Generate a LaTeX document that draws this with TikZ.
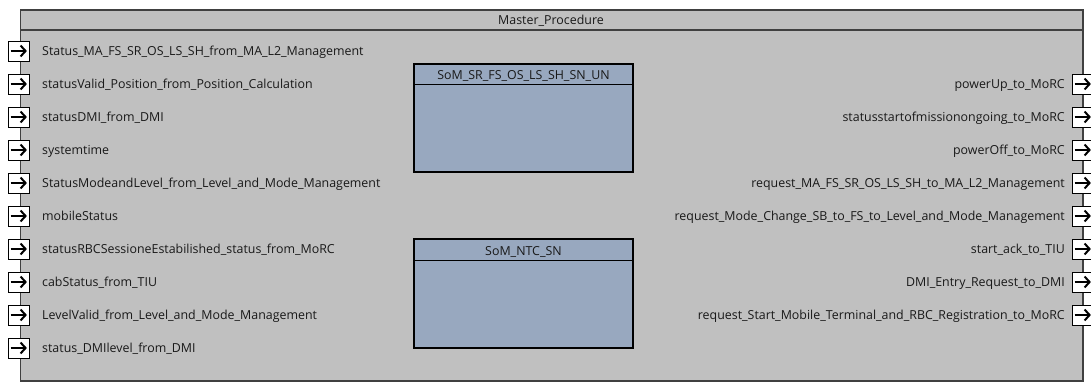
\documentclass[tikz,border=0pt]{standalone}
\usepackage{fontspec}
\setmainfont{Open Sans}
\usetikzlibrary{arrows,arrows.meta}
\definecolor{rahmengrau}{RGB}{192,192,192}
\definecolor{blockblau}{RGB}{152,168,191}
\definecolor{liniengrau}{RGB}{64,64,64}

\begin{document}
\begin{tikzpicture}[x=1pt,y=-1pt,
		port/.style={draw=black,fill=white,minimum width=21pt,minimum height=20pt,inner sep=0pt,line width=0.8pt},
		signal/.style={font=\fontsize{12.4}{14}\selectfont,inner sep=0pt,text=black!90},
		pfeil/.style={-{Straight Barb[length=5pt,width=11pt]},line width=2pt}]
		\useasboundingbox (0,0) rectangle (1091,383);
		%Rahmen zeichnen
		\draw[liniengrau,fill=rahmengrau,line width=1.5pt] (20.5,10) rectangle (1083,381);
		\draw[liniengrau,line width=1.5pt] (20.5,30) -- (1083,30);
		\node[signal,anchor=base] (titel) at (551,24.5) {Master\_Procedure};
		%Bloecke zeichnen
		\draw[fill=blockblau,line width=1.2pt] (414,64) rectangle (633,172);
		\draw[line width=1pt] (414,84) -- (634,84);
		\node[signal,anchor=base] (block1) at (523.5,79.5) {SoM\_SR\_FS\_OS\_LS\_SH\_SN\_UN};
		\draw[fill=blockblau,line width=1.2pt] (414,239) rectangle (633,348);
		\draw[line width=1pt] (414,260) -- (634,260);
		\node[signal,anchor=base] (block2) at (523.5,255.5) {SoM\_NTC\_SN};
		%Eingaenge
		\foreach \txt [count=\i from 0] in {Status\_MA\_FS\_SR\_OS\_LS\_SH\_from\_MA\_L2\_Management,
			statusValid\_Position\_from\_Position\_Calculation, statusDMI\_from\_DMI, systemtime,
			StatusModeandLevel\_from\_Level\_and\_Mode\_Management, mobileStatus,
			statusRBCSessioneEstabilished\_status\_from\_MoRC, cabStatus\_from\_TIU,
			LevelValid\_from\_Level\_and\_Mode\_Management, status\_DMIlevel\_from\_DMI}
		{
			\node[port] (ein\i) at (18.5,51+33*\i) {};
			\draw[pfeil] ([xshift=3pt]ein\i.west) -- ([xshift=-2.5pt]ein\i.east);
			\node[signal,anchor=base west] (einname\i) at (42,55.5+33*\i) {\txt};
		}
		%Ausgaenge
		\foreach \txt [count=\i from 0] in {powerUp\_to\_MoRC, statusstartofmissionongoing\_to\_MoRC,
			powerOff\_to\_MoRC, request\_MA\_FS\_SR\_OS\_LS\_SH\_to\_MA\_L2\_Management,
			request\_Mode\_Change\_SB\_to\_FS\_to\_Level\_and\_Mode\_Management, start\_ack\_to\_TIU,
			DMI\_Entry\_Request\_to\_DMI, request\_Start\_Mobile\_Terminal\_and\_RBC\_Registration\_to\_MoRC}
		{
			\node[port] (aus\i) at (1082.5,84+33*\i) {};
			\draw[pfeil] ([xshift=3pt]aus\i.west) -- ([xshift=-2.5pt]aus\i.east);
			\node[signal,anchor=base east] (ausname\i) at (1065,88.5+33*\i) {\txt};
		}
	\end{tikzpicture}
\end{document}
